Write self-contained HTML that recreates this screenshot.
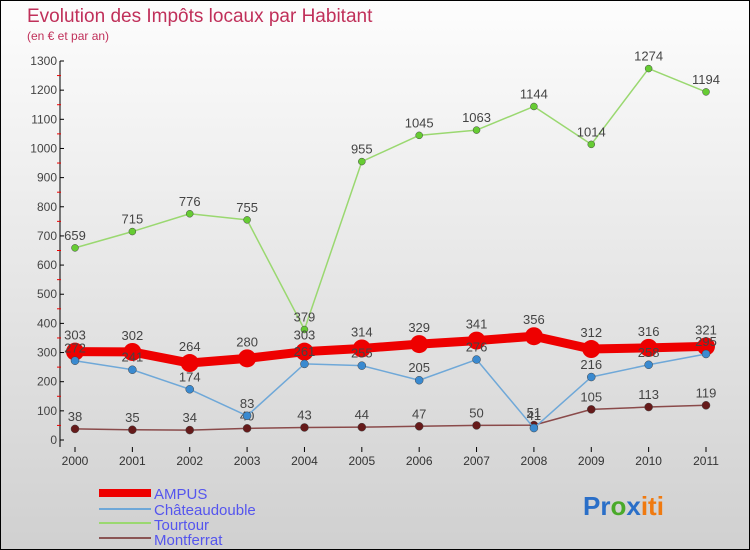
<!DOCTYPE html>
<html><head><meta charset="utf-8"><style>
body{margin:0}
#c{width:750px;height:550px;position:relative;background:linear-gradient(#fdfdfd,#d0d0d0);box-sizing:border-box;border:1px solid #000;overflow:hidden;font-family:"Liberation Sans",sans-serif}
</style></head><body>
<div id="c">
<svg width="750" height="550" id="s" style="position:absolute;left:-1px;top:-1px">
<text x="27" y="22" font-size="19" fill="#c0305a">Evolution des Impôts locaux par Habitant</text>
<text x="27" y="40" font-size="12" fill="#c0305a">(en € et par an)</text>
<g id="g"></g>
<g font-size="15" fill="#5555ee">
<rect x="99" y="489" width="52" height="8" fill="#ee0000"/>
<text x="154" y="499">AMPUS</text>
<rect x="99" y="508" width="52" height="2" fill="#6fa8d8"/>
<text x="154" y="515">Châteaudouble</text>
<rect x="99" y="522" width="52" height="2" fill="#9ad870"/>
<text x="154" y="530">Tourtour</text>
<rect x="99" y="537" width="52" height="2" fill="#8a5555"/>
<text x="154" y="545">Montferrat</text>
</g>
<g font-size="26" font-weight="bold" font-family="Liberation Sans, sans-serif">
<text x="583" y="515"><tspan fill="#2a6fc8">Pr</tspan><tspan fill="#4aaa2a">o</tspan><tspan fill="#2a6fc8">x</tspan><tspan fill="#f07a10">iti</tspan></text>
</g>
</svg>
</div>
<script>
const years=["2000","2001","2002","2003","2004","2005","2006","2007","2008","2009","2010","2011"];
const yTicks=[0,100,200,300,400,500,600,700,800,900,1000,1100,1200,1300];
const ampus=[303,302,264,280,303,314,329,341,356,312,316,321];
const chateaudouble=[272,241,174,83,261,255,205,276,41,216,258,295];
const tourtour=[659,715,776,755,379,955,1045,1063,1144,1014,1274,1194];
const montferrat=[38,35,34,40,43,44,47,50,51,105,113,119];
const NS="http://www.w3.org/2000/svg",g=document.getElementById('g');
const X=i=>75+i*(631/11), Y=v=>440-v*379/1300;
function mk(t,a,p){const e=document.createElementNS(NS,t);for(const k in a)e.setAttribute(k,a[k]);(p||g).appendChild(e);return e;}
let ax=mk('line',{x1:60,y1:Y(1300),x2:60,y2:447,stroke:'#000'});


yTicks.forEach(v=>{
 mk('line',{x1:60,y1:Y(v),x2:64,y2:Y(v),stroke:'#000'});
 if(v<1300)mk('line',{x1:57,y1:Y(v+50),x2:61,y2:Y(v+50),stroke:'#e00'});
 const t=mk('text',{x:57,y:Y(v)+4,'font-size':12,'text-anchor':'end',fill:'#444'});t.textContent=v;
 
 
});
years.forEach((y,i)=>{
 mk('line',{x1:X(i),y1:447,x2:X(i),y2:452,stroke:'#000'});
 const t=mk('text',{x:X(i),y:465,'font-size':12,'text-anchor':'middle',fill:'#333'});t.textContent=y;
 
 
});
function series(name,d,col,w,r,dot){
 const gg=mk('g',{});
 
 
 mk('polyline',{points:d.map((v,i)=>X(i)+','+Y(v)).join(' '),fill:'none',stroke:col,'stroke-width':w,'stroke-linejoin':'round'},gg);
 d.forEach((v,i)=>{
  const c=mk('circle',{cx:X(i),cy:Y(v),r:r,fill:dot,stroke:'#444','stroke-width':r>6?0:0.5},gg);
  
  
  const t=mk('text',{x:X(i),y:Y(v)-8-(r>6?4:0),'font-size':13,'text-anchor':'middle',fill:'#444'},gg);t.textContent=v;
 });
}
series('tourtour',tourtour,'#9ad870',1.5,3.5,'#66cc33');
series('montferrat',montferrat,'#8a4a4a',1.5,4,'#661a1a');
series('ampus',ampus,'#ee0000',9,9,'#ee0000');
series('chateaudouble',chateaudouble,'#6fa8d8',1.5,4,'#3a8ad0');
</script>
</body></html>
